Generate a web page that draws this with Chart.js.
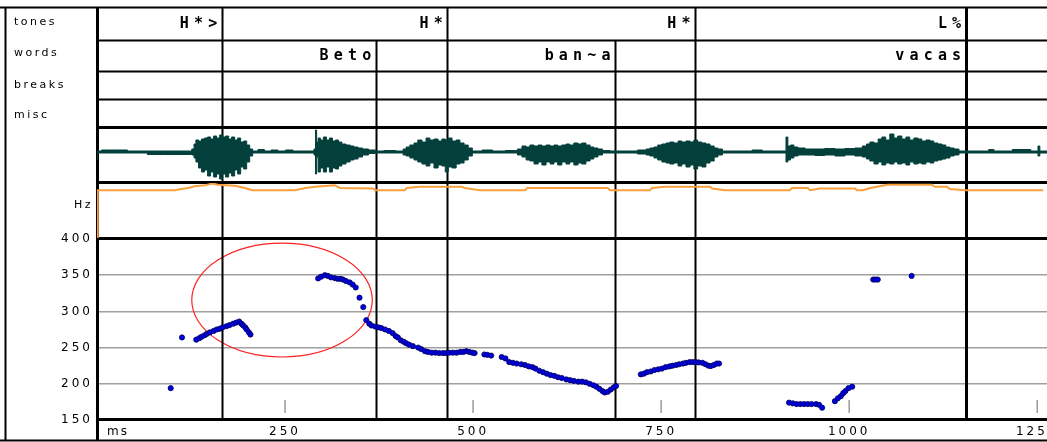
<!DOCTYPE html>
<html><head><meta charset="utf-8">
<script src="https://cdn.jsdelivr.net/npm/chart.js@4.4.1/dist/chart.umd.min.js"></script>
<style>
html,body{margin:0;padding:0;background:#fff;overflow:hidden}
#wrap{position:relative;width:1047px;height:442px}
canvas{position:absolute;display:block}
</style></head><body>
<div id="wrap">
<canvas id="base" width="1047" height="442" style="left:0;top:0"></canvas>
<canvas id="wave" width="950" height="54" style="left:97px;top:128px"></canvas>
<canvas id="energy" width="950" height="55" style="left:97px;top:183px"></canvas>
</div>
<script>
// ---------- data ----------
const timeRangeMs = [0, 1263];
const pitchRangeHz = [150, 400];
const pitchTicksHz = [150, 200, 250, 300, 350, 400];
const timeTicksMs = [250, 500, 750, 1000, 1250];
const tierNames = ['tones', 'words', 'breaks', 'misc'];
const toneLabels = ['H*>', 'H*', 'H*', 'L%'];
const toneTimes = [165.8, 465.7, 795, 1154.8];
const wordLabels = ['Beto', 'ban~a', 'vacas'];
const wordTimes = [370.5, 688.6, 1154.8];
const highlightEllipse = [246, 315.7, 120, 78.7]; // centre ms, centre Hz, radius ms, radius Hz

// pitch track [ms, Hz]
const pitchTrack = [
[98,194],[113,264],
[132,261],[136,263],[139,265],[143,267],[146,269],[150,271],[155,273],[159,275],[163,276],[167,278],[172,279.5],[176,281],[181,283],[185,284.5],[189,286],[192,283],[194,281],[197,278],[199,275],[202,271],[204,268],
[294,345.5],[298,348],[303,350],[307,349],[311,347],[316,346],[320,345],[324,345],[327,344],[331,342],[336,340],[340,337],[344,333],[349,319],[354,306],[358,288],[362,283],[365,280.5],[370,279],[374,278],[378,277],[383,275],[388,273],[393,270],[397,266],[400,264],[404,260],[408,258],[411,256],[415,254],[420,252],[427,250],[431,248],[436,245],[440,244],[445,243],[450,243],[455,242.5],[460,242.5],[464,242.5],[468,243],[473,243],[478,243],[483,244],[487,244],[491,245],[495,244],[499,243],[502,242.5],
[515,240.5],[519,240],[524,239],
[538,237],[543,235],[548,230],[553,229],[558,228],[564,227],[569,226],[574,224],[579,223],[583,221],[588,218],[593,216],[598,214],[603,212],[608,211],[613,209],[618,208],[624,206],[629,205],[634,204],[640,203],[645,203],[650,202],[655,200],[660,198],[664,196],[668,193],[672,190],[675,188],[679,189],[683,192],[687,195],[690,197],
[723,213],[727,214],[731,216],[736,217],[741,219],[746,220],[751,221],[756,223],[761,224],[765,225],[770,226],[774,227],[779,228],[783,229],[788,230],[792,230],[796,230],[800,229.5],[805,229],[809,227],[813,225],[816,224.5],[820,226],[824,228],[827,228],
[920,174],[925,173],[930,172],[935,172],[940,172],[945,172],[950,172],[956,172],[960,171],[964,167],
[981,176],[985,180],[989,183],[992,187],[995,190],[999,194],[1004,196],
[1032,344],[1035,344],[1038,344],
[1083,349]
];

// waveform envelope [ms, upper amplitude, lower amplitude]
const waveEnvelope = [
[0,1,8],[1,1,1],[11,2,1],[37,2,1],[44,1,1],[90,1,2.5],[124,1,2.5],[128,3,3],[130,8,6],[133,12,10],[137,11,16],[141,13,20],[145,14,18],[149,15,24],[153,13,20],[157,16,25],[161,14,22],[165,17,27],[169,15,22],[173,16,25],[177,13,21],[181,15,24],[185,12,18],[189,14,22],[193,10,15],[197,11,17],[201,7,10],[205,3,4],[209,1,1],[219,2.5,1],[226,1,1],[237,2,1],[244,1,1],[257,2,1],[264,1,1],[287,1,1],[290,3,3],[291,22,22],[293,10,5],[295,14,20],[299,12,16],[303,15,20],[307,12,15],[311,14,20],[315,11,16],[319,12,17],[323,10,14],[328,8,12],[334,7,10],[339,6,8],[344,5,7],[350,4,5],[356,3,3],[366,2,1.5],[374,1,1],[389,1.5,1],[405,1,1],[409,3,3],[413,5,4],[419,7,6],[424,9,8],[429,12,10],[435,10,12],[440,14,14],[445,12,11],[451,13,16],[456,11,13],[461,13,14],[465,12,20],[469,14,15],[475,11,16],[480,12,12],[485,9,11],[491,7,8],[496,4,4],[502,1,1],[522,2,1],[530,1,1],[556,1.5,1],[562,3,3],[568,6,5],[573,5,8],[578,7,9],[584,6,12],[589,7,10],[594,6,13],[600,7,10],[605,6,12],[610,7,10],[615,6,13],[621,7,10],[626,8,12],[631,7,10],[637,9,13],[642,8,11],[647,9,12],[653,7,9],[658,5,7],[663,4,5],[669,3,3],[675,1.5,1],[689,1,1],[709,1,1],[728,2,2],[732,3,3],[738,4,4],[743,5,6],[748,7,8],[754,8,10],[759,9,11],[764,10,12],[770,9,11],[775,11,14],[780,10,12],[786,11,15],[791,10,13],[796,12,17],[801,10,14],[807,9,15],[812,8,11],[818,6,9],[823,4,5],[828,3,3],[835,1,1],[861,1,1],[881,2,1],[888,1,1],[915,1,1],[917,15,10],[920,6,8],[924,7,6],[929,5,4],[935,4,3],[948,3,3],[961,3,3.5],[974,3.5,3],[988,3,4],[1001,3.5,3],[1014,4,4],[1021,6,5],[1025,8,7],[1030,10,9],[1036,9,12],[1041,13,10],[1046,15,13],[1051,12,11],[1057,18,12],[1062,14,10],[1067,16,12],[1073,13,11],[1078,15,13],[1083,12,10],[1089,14,12],[1094,13,11],[1099,11,12],[1105,12,10],[1110,11,11],[1115,9,9],[1121,8,8],[1126,7,7],[1131,5,6],[1137,4,4],[1142,3,3],[1150,1,1],[1180,1,1],[1191,2.5,1],[1194,1,1],[1240,2.5,1],[1243,1,1],[1250,1,1],[1252,6,4],[1255,1,1],[1263,1,1]
];

// energy contour [ms, relative level 0-100]
const energyTrack = [
[0,0],[1,87],[104,87],[108,88],[121,91],[130,94],[144,96],[153,99],[161,97],[183,95],[197,91],[206,87],[263,87],[277,91],[290,93],[316,96],[323,91],[367,90],[370,87],[409,87],[412,91],[429,93],[485,93],[489,91],[509,87],[569,87],[572,91],[679,91],[682,87],[735,87],[738,91],[755,93],[815,93],[818,90],[835,87],[921,87],[924,91],[945,91],[948,87],[961,90],[1008,90],[1010,87],[1018,87],[1028,91],[1051,97],[1110,97],[1114,93],[1130,93],[1134,89],[1154,87],[1258,87]
];

// ---------- styles ----------
const WAVE_COLOR = '#033f3b';
const ORANGE = '#f9a03c';
const TXT_FONT = '"DejaVu Sans", sans-serif';

Chart.defaults.font.family = TXT_FONT;
Chart.defaults.color = '#000';

const common = {
  responsive: false, animation: false, events: [],
  plugins: { legend: { display: false }, tooltip: { enabled: false } }
};

function line(ctx, x1, y1, x2, y2, w, color) {
  ctx.save(); ctx.strokeStyle = color || '#000'; ctx.lineWidth = w;
  ctx.beginPath(); ctx.moveTo(x1, y1); ctx.lineTo(x2, y2); ctx.stroke(); ctx.restore();
}

function tierText(ctx, str, xRight, yMid) {
  ctx.save();
  ctx.letterSpacing = '0px';
  ctx.font = 'bold 15px "DejaVu Sans Mono", monospace';
  ctx.fillStyle = '#000'; ctx.textAlign = 'center'; ctx.textBaseline = 'middle';
  const adv = 14.2;
  const chars = Array.from(str);
  for (let i = 0; i < chars.length; i++) {
    const cx = xRight - 9 - (chars.length - 1 - i) * adv;
    ctx.fillText(chars[i], cx, yMid);
  }
  ctx.restore();
}

const framePlugin = {
  id: 'framePlugin',
  beforeDraw(chart) {
    const c = chart.ctx;
    c.save(); c.fillStyle = '#fff'; c.fillRect(0, 0, chart.width, chart.height); c.restore();
    c.letterSpacing = '3px';
  },
  beforeDatasetsDraw(chart) {
    const c = chart.ctx, xs = chart.scales.x, ys = chart.scales.y, a = chart.chartArea;
    // short time ticks inside the plot
    timeTicksMs.forEach(t => line(c, xs.getPixelForValue(t), a.bottom - 20, xs.getPixelForValue(t), a.bottom - 7, 1.5, '#9a9a9a'));
    // highlight ellipse
    const [ex, ey, erx, ery] = highlightEllipse;
    const cx = xs.getPixelForValue(ex), cy = ys.getPixelForValue(ey);
    const rx = xs.getPixelForValue(ex + erx) - cx, ry = cy - ys.getPixelForValue(ey + ery);
    c.save(); c.strokeStyle = '#f22'; c.lineWidth = 1.2;
    c.beginPath(); c.ellipse(cx, cy, rx, ry, 0, 0, Math.PI * 2); c.stroke(); c.restore();
    // boundaries
    toneTimes.forEach((t, i) => {
      const x = Math.round(xs.getPixelForValue(t)) + 0.5;
      line(c, x, 7, x, a.bottom, i === toneTimes.length - 1 ? 3 : 2);
    });
    wordTimes.forEach(t => {
      const x = Math.round(xs.getPixelForValue(t)) + 0.5;
      line(c, x, 40, x, a.bottom, 2);
    });
  },
  afterDraw(chart) {
    const c = chart.ctx, xs = chart.scales.x, W = chart.width;
    c.letterSpacing = '0px';
    // outer frame
    line(c, 0, 7.5, W, 7.5, 2);
    line(c, 5.5, 7, 5.5, 441, 2);
    line(c, 0, 440.5, W, 440.5, 2);
    line(c, 97.5, 7, 97.5, 441, 3);
    // tier rows
    [40.5, 71.5, 99.5].forEach(y => line(c, 97, y, W, y, 2));
    [127.5, 182.5, 238.5, 419.5].forEach(y => line(c, 97, y, W, y, 3));
    // tier labels
    toneLabels.forEach((s, i) => tierText(c, s, xs.getPixelForValue(toneTimes[i]), 24));
    wordLabels.forEach((s, i) => tierText(c, s, xs.getPixelForValue(wordTimes[i]), 56));
    // side labels
    c.save();
    c.font = '11px ' + TXT_FONT; c.fillStyle = '#000'; c.textBaseline = 'middle';
    c.letterSpacing = '2.5px';
    const ys = [22, 53, 85, 115];
    tierNames.forEach((n, i) => c.fillText(n, 14, ys[i]));
    c.textAlign = 'right'; c.fillText('Hz', 93, 205);
    c.textAlign = 'left'; c.font = '12px ' + TXT_FONT; c.letterSpacing = '2px'; c.fillText('ms', 107, 432);
    c.restore();
  }
};

// ---------- pitch chart (base) ----------
new Chart(document.getElementById('base'), {
  type: 'scatter',
  data: { datasets: [{
    data: pitchTrack.map(p => ({ x: p[0], y: p[1] })),
    pointRadius: 2.6, pointBackgroundColor: '#0000e6', pointBorderColor: '#000050', pointBorderWidth: 0.8
  }]},
  options: Object.assign({}, common, {
    layout: { autoPadding: false, padding: { top: 239, left: 0, right: 0, bottom: 0 } },
    scales: {
      x: {
        type: 'linear', min: timeRangeMs[0], max: timeRangeMs[1],
        afterBuildTicks: s => { s.ticks = timeTicksMs.map(v => ({ value: v })); },
        afterFit: s => { s.height = 22; s.paddingLeft = 0; s.paddingRight = 0; },
        grid: { display: false, drawTicks: false }, border: { display: false },
        ticks: { font: { size: 12 }, padding: 5, maxRotation: 0, autoSkip: false, color: '#000', callback: v => String(v) }
      },
      y: {
        min: pitchRangeHz[0], max: pitchRangeHz[1],
        afterBuildTicks: s => { s.ticks = pitchTicksHz.map(v => ({ value: v })); },
        afterFit: s => { s.width = 97; s.paddingTop = 0; s.paddingBottom = 0; },
        grid: { color: '#a0a0a0', lineWidth: 1.5, drawTicks: false }, border: { display: false },
        ticks: { font: { size: 12 }, padding: 4, color: '#000', callback: v => String(v) }
      }
    }
  }),
  plugins: [framePlugin]
});

// ---------- waveform ----------
new Chart(document.getElementById('wave'), {
  type: 'line',
  data: { datasets: [
    { data: waveEnvelope.map(r => ({ x: r[0], y: r[1] })), borderColor: WAVE_COLOR, backgroundColor: WAVE_COLOR,
      borderWidth: 1, pointRadius: 0, fill: '+1', stepped: 'middle' },
    { data: waveEnvelope.map(r => ({ x: r[0], y: -r[2] })), borderColor: WAVE_COLOR, backgroundColor: WAVE_COLOR,
      borderWidth: 1, pointRadius: 0, fill: false, stepped: 'middle' }
  ]},
  options: Object.assign({}, common, {
    layout: { autoPadding: false, padding: 0 },
    scales: {
      x: { type: 'linear', min: timeRangeMs[0], max: timeRangeMs[1], display: false },
      y: { min: -30, max: 24, display: false }
    }
  })
});

// ---------- energy contour ----------
new Chart(document.getElementById('energy'), {
  type: 'line',
  data: { datasets: [{
    data: energyTrack.map(r => ({ x: r[0], y: r[1] })), borderColor: ORANGE, borderWidth: 2, pointRadius: 0, fill: false
  }]},
  options: Object.assign({}, common, {
    layout: { autoPadding: false, padding: 0 },
    scales: {
      x: { type: 'linear', min: timeRangeMs[0], max: timeRangeMs[1], display: false },
      y: { min: 0, max: 100, display: false }
    }
  })
});
</script>
</body></html>
